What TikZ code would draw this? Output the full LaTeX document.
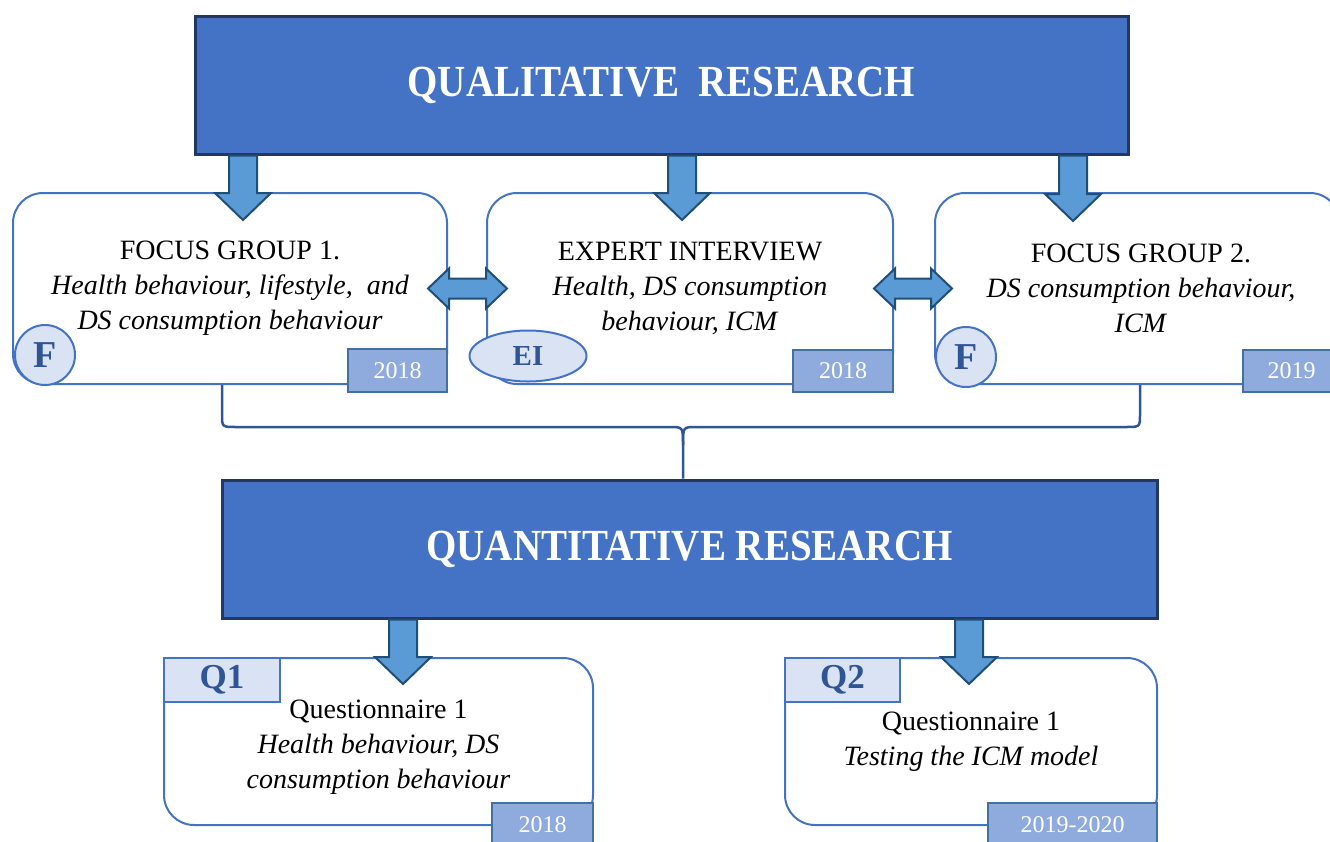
\documentclass[tikz,border=0pt]{standalone}
\usepackage{fontspec}
\setmainfont{Liberation Serif}
\usetikzlibrary{calc,shapes.geometric}

\definecolor{titleblue}{HTML}{4472C4}
\definecolor{titlenavy}{HTML}{1F3864}
\definecolor{cardline}{HTML}{4472C4}
\definecolor{arrowfill}{HTML}{5B9BD5}
\definecolor{arrowline}{HTML}{1F4E79}
\definecolor{badgefill}{HTML}{DAE3F3}
\definecolor{badgetext}{HTML}{2F5597}
\definecolor{datefill}{HTML}{8FAADC}
\definecolor{dateline}{HTML}{41719C}
\definecolor{braceblue}{HTML}{2F5597}

\newcommand\bodyfont{\fontsize{28}{35}\selectfont}
\newcommand\titlefont{\fontsize{39}{45}\selectfont\bfseries}

% downward block arrow: #1 top of shaft, #2 tip
\newcommand\downblock[2]{%
  \draw[blockarrow] ($(#1)+(-14,0)$) -- ($(#2)+(-14,-27)$) -- ($(#2)+(-28,-27)$)
    -- (#2) -- ($(#2)+(28,-27)$) -- ($(#2)+(14,-27)$) -- ($(#1)+(14,0)$) -- cycle;}
% two-headed horizontal block arrow: #1 left tip, #2 right tip
\newcommand\sideblock[2]{%
  \draw[blockarrow] (#1) -- ($(#1)+(21,-20)$) -- ($(#1)+(21,-10)$) -- ($(#2)+(-21,-10)$)
    -- ($(#2)+(-21,-20)$) -- (#2) -- ($(#2)+(-21,20)$) -- ($(#2)+(-21,10)$)
    -- ($(#1)+(21,10)$) -- ($(#1)+(21,20)$) -- cycle;}

\begin{document}
\begin{tikzpicture}[x=1pt,y=-1pt,
  titlebox/.style={draw=titlenavy, line width=3pt, fill=titleblue, inner sep=0pt},
  titletext/.style={text=white, font=\titlefont, inner sep=0pt, yscale=1.14, transform shape},
  card/.style={draw=cardline, line width=2pt, rounded corners=30pt, fill=white,
    align=center, font=\bodyfont, inner sep=0pt},
  datebox/.style={draw=dateline, fill=datefill, line width=2pt, text=white,
    font=\fontsize{24}{24}\selectfont, inner sep=0pt},
  badge/.style={draw=cardline, fill=badgefill, line width=2pt, text=badgetext, inner sep=0pt},
  blockarrow/.style={draw=arrowline, fill=arrowfill, line width=2pt, line join=miter},
  brace/.style={draw=braceblue, line width=2.5pt, line join=round}]

\useasboundingbox (0,0) rectangle (1330,841);

% main headings
\node[titlebox, minimum width=933pt, minimum height=138pt] (qual) at (661.5,85) {};
\node[titlebox, minimum width=935pt, minimum height=138pt] (quant) at (689.5,549) {};
\node[titletext] (qualtx) at (qual) {QUALITATIVE\ \ RESEARCH};
\node[titletext] (quanttx) at (quant) {QUANTITATIVE RESEARCH};

% qualitative cards
\node[card, minimum width=434pt, minimum height=191pt] (fg1) at (230,288.5)
  {FOCUS GROUP 1.\\ \textit{Health behaviour, lifestyle,\ \ and}\\ \textit{DS consumption behaviour}};
\node[card, minimum width=406pt, minimum height=191pt] (ei) at (690,288.5)
  {EXPERT INTERVIEW\\ \textit{Health, DS consumption}\\ \textit{behaviour, ICM}};
\node[card, minimum width=405pt, minimum height=191pt] (fg2) at (1137.5,288.5)
  {\hspace*{7pt}FOCUS GROUP 2.\\ \hspace*{7pt}\textit{DS consumption behaviour,}\\ \hspace*{7pt}\textit{ICM}};

% quantitative cards
\node[card, minimum width=429pt, minimum height=167pt] (q1) at (378.5,741.5)
  {\rule{0pt}{30pt}Questionnaire 1\\ \textit{Health behaviour, DS}\\ \textit{consumption behaviour}};
\node[card, minimum width=372pt, minimum height=167pt] (q2) at (971,741.5)
  {Questionnaire 1\\ \textit{Testing the ICM model}};

% years
\node[datebox, minimum width=99pt, minimum height=43pt] (d1) at (397.5,370.5) {2018};
\node[datebox, minimum width=100pt, minimum height=42pt] (d2) at (843,371) {2018};
\node[datebox, minimum width=97pt, minimum height=42pt] (d3) at (1291.5,371) {2019};
\node[datebox, minimum width=101pt, minimum height=44pt] (d4) at (542.5,825) {2018};
\node[datebox, minimum width=169pt, minimum height=44pt] (d5) at (1072.5,825) {2019-2020};

% method badges
\node[badge, circle, minimum size=60pt, font=\fontsize{38}{38}\selectfont\bfseries] (bf1) at (45,355) {F};
\node[badge, ellipse, minimum width=117pt, minimum height=51pt, font=\fontsize{29}{29}\selectfont\bfseries] (bei) at (528,356) {EI};
\node[badge, circle, minimum size=60pt, font=\fontsize{38}{38}\selectfont\bfseries] (bf2) at (966,357) {F};
\node[badge, rectangle, minimum width=116pt, minimum height=44pt, font=\fontsize{35}{35}\selectfont\bfseries] (bq1) at (222,680) {Q1};
\node[badge, rectangle, minimum width=115pt, minimum height=44pt, font=\fontsize{35}{35}\selectfont\bfseries] (bq2) at (842.5,680) {Q2};

% arrow end points
\coordinate (a1s) at (243,0 |- qual.south);
\path (243,0 |- fg1.north) ++(0,28) coordinate (a1t);
\coordinate (a2s) at (682,0 |- qual.south);
\path (682,0 |- ei.north) ++(0,28) coordinate (a2t);
\coordinate (a3s) at (1073,0 |- qual.south);
\path (1073,0 |- fg2.north) ++(0,29) coordinate (a3t);
\coordinate (a4s) at (403,0 |- quant.south);
\path (403,0 |- q1.north) ++(0,27) coordinate (a4t);
\coordinate (a5s) at (969,0 |- quant.south);
\path (969,0 |- q2.north) ++(0,27) coordinate (a5t);
\path (fg1.east) ++(-20,0) coordinate (h1l);
\path (ei.west) ++(21,0) coordinate (h1r);
\path (ei.east) ++(-20,0) coordinate (h2l);
\path (fg2.west) ++(18,0) coordinate (h2r);

\downblock{a1s}{a1t}
\downblock{a2s}{a2t}
\downblock{a3s}{a3t}
\downblock{a4s}{a4t}
\downblock{a5s}{a5t}
\sideblock{h1l}{h1r}
\sideblock{h2l}{h2r}

% brace gathering the qualitative stage into the quantitative one
\coordinate (bl) at (222,0 |- fg1.south);
\coordinate (br) at (1140,0 |- fg2.south);
\coordinate (bm) at (683,0 |- quant.north);
\draw[brace] (bl) -- (222,414) .. controls (222,427) .. (236,427) -- (670,427)
  .. controls (683,427) .. (683,445) -- (bm);
\draw[brace] (br) -- (1140,414) .. controls (1140,427) .. (1126,427) -- (696,427)
  .. controls (683,427) .. (683,445);
\end{tikzpicture}
\end{document}
